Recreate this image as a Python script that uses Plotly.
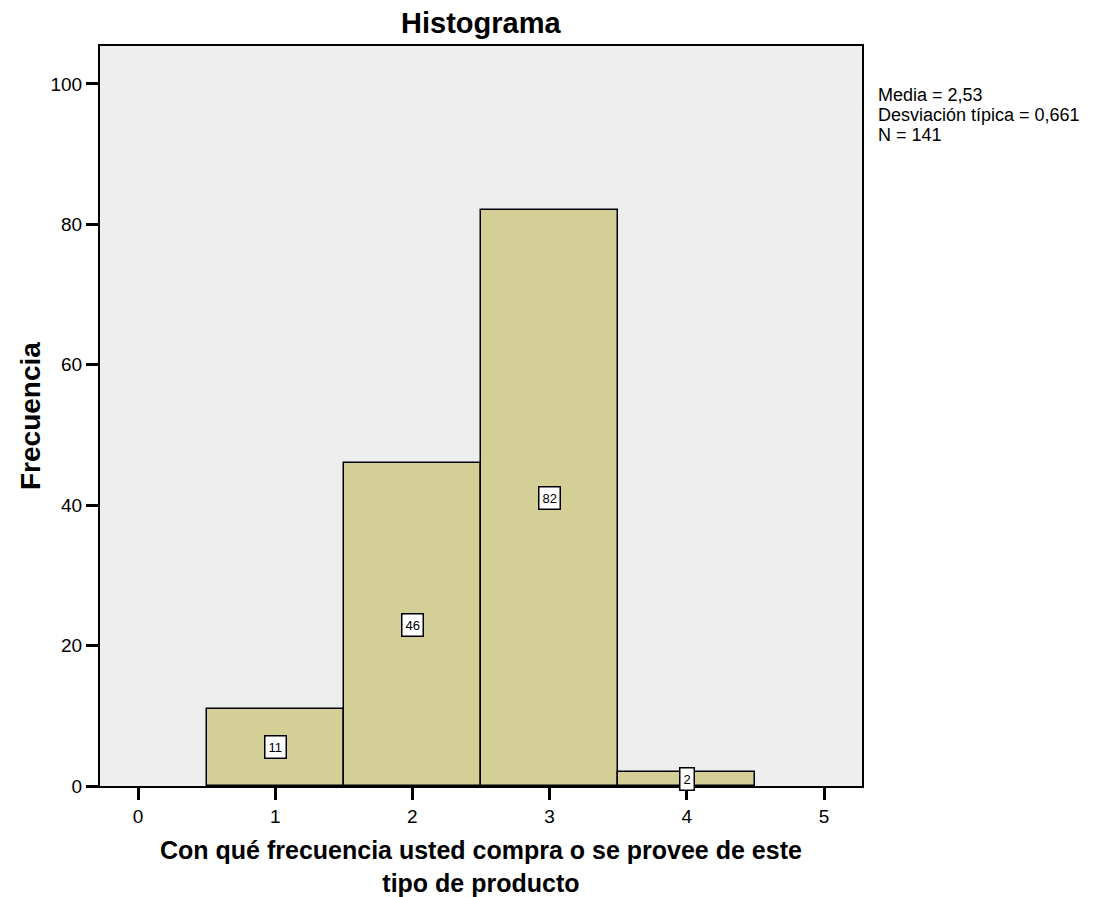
import plotly.graph_objects as go

categories = [1, 2, 3, 4]
counts = [11, 46, 82, 2]
x_ticks = [0, 1, 2, 3, 4, 5]
y_ticks = [0, 20, 40, 60, 80, 100]
stats_lines = ["Media = 2,53", "Desviación típica = 0,661", "N = 141"]
title_text = "Histograma"
x_title_lines = ["Con qué frecuencia usted compra o se provee de este", "tipo de producto"]
y_title_text = "Frecuencia"

FONT = "Liberation Sans, Arial, sans-serif"

fig = go.Figure()
fig.add_trace(go.Bar(
    x=categories, y=counts, width=1,
    marker=dict(color="#d3cf96", line=dict(color="black", width=1.5)),
    hoverinfo="x+y", showlegend=False,
))

for c, v in zip(categories, counts):
    fig.add_annotation(
        x=c, y=v / 2, text=str(v), showarrow=False,
        font=dict(family=FONT, size=13, color="black"),
        bgcolor="white", bordercolor="black", borderwidth=1.5, borderpad=3,
        xref="x", yref="y",
    )

stat_offsets = [49, 69, 89]
for line, off in zip(stats_lines, stat_offsets):
    fig.add_annotation(
        x=1.0, xref="paper", xanchor="left", xshift=14,
        y=1.0, yref="paper", yanchor="middle", yshift=-off,
        text=line, align="left", showarrow=False,
        font=dict(family=FONT, size=18, color="black"),
    )

fig.add_annotation(
    x=0.5, xref="paper", xanchor="center", y=1.0, yref="paper", yanchor="middle",
    yshift=23, text="<b>" + title_text + "</b>", showarrow=False,
    font=dict(family=FONT, size=29, color="black"),
)

fig.add_annotation(
    x=0.5, xref="paper", xanchor="center", y=0.0, yref="paper", yanchor="middle",
    yshift=-80, text="<br>".join("<b>" + l + "</b>" for l in x_title_lines),
    align="center", showarrow=False,
    font=dict(family=FONT, size=25, color="black"),
)

fig.add_annotation(
    x=0.0, xref="paper", xanchor="center", xshift=-70,
    y=0.5, yref="paper", yanchor="middle",
    text="<b>" + y_title_text + "</b>", textangle=-90, showarrow=False,
    font=dict(family=FONT, size=28, color="black"),
)

fig.update_layout(
    width=1106, height=897,
    margin=dict(l=100, r=244, t=46, b=111),
    paper_bgcolor="white", plot_bgcolor="#eeeeee",
    font=dict(family=FONT, color="black"),
    bargap=0,
    xaxis=dict(
        range=[-0.277, 5.277], tickvals=x_ticks, ticktext=[str(t) for t in x_ticks],
        ticks="outside", ticklen=12, tickwidth=2.5, tickcolor="black",
        showgrid=False, zeroline=False,
        showline=True, linecolor="black", linewidth=2, mirror=True,
        tickfont=dict(family=FONT, size=19, color="black"),
    ),
    yaxis=dict(
        range=[0, 105.4], tickvals=y_ticks, ticktext=[str(t) for t in y_ticks],
        ticks="outside", ticklen=12, tickwidth=2.5, tickcolor="black",
        showgrid=False, zeroline=False,
        showline=True, linecolor="black", linewidth=2, mirror=True,
        tickfont=dict(family=FONT, size=19, color="black"),
    ),
)

fig.write_html(
    "out.html",
    config={"displayModeBar": False},
    post_script="document.body.style.margin='0';document.body.style.overflow='hidden';",
)
